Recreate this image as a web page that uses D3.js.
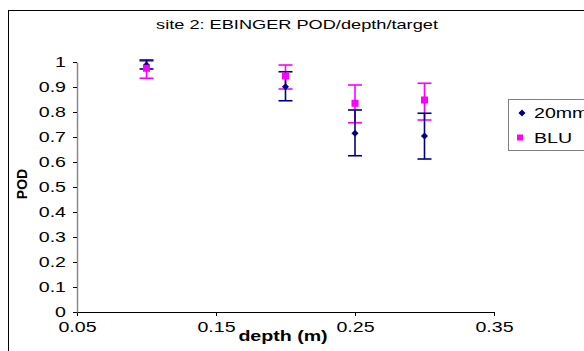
<!DOCTYPE html>
<html>
<head>
<meta charset="utf-8">
<script src="https://cdn.jsdelivr.net/npm/d3@7"></script>
<style>
  body { margin: 0; background: #fff; }
  svg { display: block; font-family: Arial, "Liberation Sans", sans-serif; }
</style>
</head>
<body>
<svg id="chart" width="584" height="351"></svg>
<script>
// data
const depths = [0.1, 0.2, 0.25, 0.3];
const pod20mm = [0.988, 0.901, 0.715, 0.704];
const pod20mmHi = [1.008, 0.961, 0.808, 0.795];
const pod20mmLo = [0.972, 0.845, 0.625, 0.612];
const podBLU = [0.975, 0.944, 0.835, 0.848];
const podBLUHi = [1.004, 0.988, 0.908, 0.915];
const podBLULo = [0.935, 0.892, 0.757, 0.768];
const xTicks = [0.05, 0.15, 0.25, 0.35];
const yTicks = [0, 0.1, 0.2, 0.3, 0.4, 0.5, 0.6, 0.7, 0.8, 0.9, 1];
const seriesNames = ["20mm", "BLU"];

const SX = 1.4; // the original text is drawn wide

const svg = d3.select("#chart");

// outer chart frame (runs off right and bottom)
svg.append("rect")
    .attr("x", 8.5).attr("y", 10.5)
    .attr("width", 600).attr("height", 400)
    .attr("fill", "none").attr("stroke", "#000").attr("stroke-width", 1);

const x = d3.scaleLinear().domain([0.05, 0.35]).range([77, 494]);
const y = d3.scaleLinear().domain([0, 1]).range([312, 62]);

// wide text helper
function wideText(px, py, str, size, anchor, bold) {
    return svg.append("g")
        .attr("transform", `translate(${px},${py})`)
        .append("text")
        .attr("transform", `scale(${SX},1)`)
        .attr("text-anchor", anchor)
        .attr("font-size", size)
        .attr("font-weight", bold ? "bold" : "normal")
        .text(str);
}

wideText(297, 29, "site 2: EBINGER POD/depth/target", 13, "middle", false);

// x axis
const xAxis = svg.append("g")
    .attr("transform", "translate(0,312)")
    .call(d3.axisBottom(x).tickValues(xTicks).tickSize(4).tickPadding(6).tickFormat(d3.format(".2f")));
xAxis.select(".domain").attr("stroke", "#000");
xAxis.selectAll(".tick line").attr("stroke", "#000");
xAxis.selectAll("text")
    .attr("font-size", 14).attr("fill", "#000")
    .attr("transform", `scale(${SX},1)`);

// y axis
const yAxis = svg.append("g")
    .attr("transform", "translate(77,0)")
    .call(d3.axisLeft(y).tickValues(yTicks).tickSize(4).tickSizeOuter(0).tickPadding(7)
        .tickFormat(d => d === 0 ? "0" : d === 1 ? "1" : d3.format(".1f")(d)));
yAxis.select(".domain").attr("stroke", "#8a8a8a").attr("stroke-width", 1.5);
yAxis.selectAll(".tick line").attr("stroke", "#000");
yAxis.selectAll("text")
    .attr("font-size", 14).attr("fill", "#000")
    .attr("x", -11 / SX)
    .attr("transform", `scale(${SX},1)`);

// axis titles
wideText(283, 341, "depth (m)", 14, "middle", true);

svg.append("text")
    .attr("transform", "translate(27,184) rotate(-90)")
    .attr("text-anchor", "middle")
    .attr("font-size", 14).attr("font-weight", "bold")
    .text("POD");

// error bars
function errorBars(his, los, color) {
    const g = svg.append("g").attr("stroke", color).attr("stroke-width", 1.6);
    depths.forEach((d, i) => {
        const cx = x(d);
        g.append("line").attr("x1", cx).attr("x2", cx).attr("y1", y(his[i])).attr("y2", y(los[i]));
        g.append("line").attr("x1", cx - 7).attr("x2", cx + 7).attr("y1", y(his[i])).attr("y2", y(his[i]));
        g.append("line").attr("x1", cx - 7).attr("x2", cx + 7).attr("y1", y(los[i])).attr("y2", y(los[i]));
    });
}
errorBars(podBLUHi, podBLULo, "#ff00ff");
errorBars(pod20mmHi, pod20mmLo, "#000080");

const diamond = d3.symbol().type(d3.symbolDiamond2).size(32);
svg.append("g").selectAll("path")
    .data(depths)
    .join("path")
    .attr("d", diamond)
    .attr("transform", (d, i) => `translate(${x(d)},${y(pod20mm[i])})`)
    .attr("fill", "#000080");

svg.append("g").selectAll("rect")
    .data(depths)
    .join("rect")
    .attr("x", d => x(d) - 3.5)
    .attr("y", (d, i) => y(podBLU[i]) - 3.5)
    .attr("width", 7).attr("height", 7)
    .attr("fill", "#ff00ff");

// legend
svg.append("rect")
    .attr("x", 508.5).attr("y", 99.5)
    .attr("width", 90).attr("height", 51)
    .attr("fill", "#fff").attr("stroke", "#808080").attr("stroke-width", 1);
svg.append("path")
    .attr("d", diamond)
    .attr("transform", "translate(522,113)")
    .attr("fill", "#000080");
svg.append("rect")
    .attr("x", 517).attr("y", 134.5)
    .attr("width", 6).attr("height", 6)
    .attr("fill", "#ff00ff");
seriesNames.forEach((name, i) => {
    wideText(534, 118 + i * 25, name, 14, "start", false);
});
</script>
</body>
</html>
